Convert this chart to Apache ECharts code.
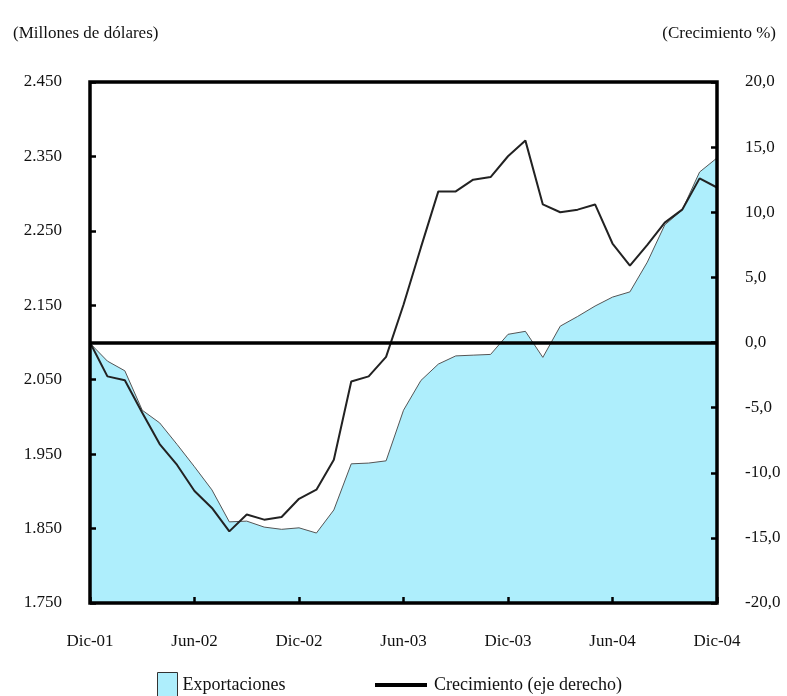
<!DOCTYPE html>
<html>
<head>
<meta charset="utf-8">
<script src="https://cdn.jsdelivr.net/npm/echarts@6/dist/echarts.min.js"></script>
<style>
html,body{margin:0;padding:0;background:#fff;}
#chart{width:787px;height:696px;}
</style>
</head>
<body>
<div id="chart"></div>
<script>
var months = ['Dic-01','Ene-02','Feb-02','Mar-02','Abr-02','May-02','Jun-02','Jul-02','Ago-02','Sep-02','Oct-02','Nov-02',
  'Dic-02','Ene-03','Feb-03','Mar-03','Abr-03','May-03','Jun-03','Jul-03','Ago-03','Sep-03','Oct-03','Nov-03',
  'Dic-03','Ene-04','Feb-04','Mar-04','Abr-04','May-04','Jun-04','Jul-04','Ago-04','Sep-04','Oct-04','Nov-04','Dic-04'];
// Exportaciones (millones de dólares)
var exportaciones = [2099, 2075, 2062, 2009, 1992, 1963, 1933, 1902, 1859, 1860, 1852, 1849,
  1851, 1844, 1875, 1937, 1938, 1941, 2009, 2049, 2071, 2082, 2083, 2084,
  2111, 2115, 2080, 2122, 2135, 2149, 2161, 2168, 2208, 2258, 2278, 2329, 2348];
// Crecimiento (%) eje derecho
var crecimiento = [0.0, -2.6, -2.9, -5.4, -7.8, -9.4, -11.4, -12.7, -14.5, -13.2, -13.6, -13.4,
  -12.0, -11.3, -9.0, -3.0, -2.6, -1.1, 2.9, 7.3, 11.6, 11.6, 12.5, 12.7,
  14.3, 15.5, 10.6, 10.0, 10.2, 10.6, 7.6, 5.9, 7.5, 9.2, 10.2, 12.6, 11.9];
var leftTicks = {min: 1750, max: 2450, interval: 100};
var rightTicks = {min: -20, max: 20, interval: 5};

var FONT = 'Liberation Serif';
var chart = echarts.init(document.getElementById('chart'));
function fmtLeft(v){ var s = String(Math.round(v)); return s.slice(0, s.length-3) + '.' + s.slice(-3); }
function fmtRight(v){ return v.toFixed(1).replace('.', ','); }

chart.setOption({
  animation: false,
  backgroundColor: '#fff',
  textStyle: {fontFamily: FONT, color: '#111'},
  title: [
    {text: '(Millones de dólares)', left: 8, top: 20, textStyle: {fontFamily: FONT, fontSize: 17, fontWeight: 'normal', color: '#111'}},
    {text: '(Crecimiento %)', right: 6, top: 20, textStyle: {fontFamily: FONT, fontSize: 17, fontWeight: 'normal', color: '#111'}}
  ],
  grid: {left: 90, right: 70, top: 82, bottom: 93, show: true, borderColor: '#000', borderWidth: 3.5, backgroundColor: 'transparent', z: 5},
  legend: [
    {data: ['Exportaciones'], left: 152, top: 667, icon: 'rect', itemWidth: 20, itemHeight: 25, itemGap: 6,
     itemStyle: {color: '#aeeefc', borderColor: '#333', borderWidth: 1},
     textStyle: {fontFamily: FONT, fontSize: 18, color: '#111', padding: [6,0,0,0]}},
    {data: ['Crecimiento (eje derecho)'], left: 370, top: 671, icon: 'rect', itemWidth: 52, itemHeight: 4, itemGap: 8,
     itemStyle: {color: '#000'},
     textStyle: {fontFamily: FONT, fontSize: 18, color: '#111', padding: [2,0,0,2]}}
  ],
  xAxis: {
    type: 'category', data: months, boundaryGap: false, z: 6,
    axisLine: {show: false, onZero: false},
    axisTick: {show: true, inside: true, length: 6, interval: 5, lineStyle: {color: '#000', width: 2.5}},
    axisLabel: {interval: 5, margin: 30, fontFamily: FONT, fontSize: 17, color: '#111', showMinLabel: true, showMaxLabel: true},
    splitLine: {show: false}
  },
  yAxis: [
    {type: 'value', min: leftTicks.min, max: leftTicks.max, interval: leftTicks.interval, z: 6,
     axisLine: {show: false, onZero: false},
     axisTick: {show: true, inside: true, length: 6, lineStyle: {color: '#000', width: 2.5}},
     axisLabel: {margin: 28, fontFamily: FONT, fontSize: 17, color: '#111', formatter: fmtLeft},
     splitLine: {show: false}},
    {type: 'value', min: rightTicks.min, max: rightTicks.max, interval: rightTicks.interval, position: 'right', z: 6,
     axisLine: {show: false, onZero: false},
     axisTick: {show: true, inside: true, length: 6, lineStyle: {color: '#000', width: 2.5}},
     axisLabel: {margin: 28, fontFamily: FONT, fontSize: 17, color: '#111', formatter: fmtRight},
     splitLine: {show: false}}
  ],
  series: [
    {name: 'Exportaciones', type: 'line', yAxisIndex: 0, data: exportaciones, symbol: 'none', z: 1,
     lineStyle: {color: '#555', width: 1},
     itemStyle: {color: '#aeeefc', borderColor: '#333'},
     areaStyle: {color: '#aeeefc', opacity: 1, origin: 'start'}},
    {name: 'Crecimiento (eje derecho)', type: 'line', yAxisIndex: 1, data: crecimiento, symbol: 'none', z: 3,
     lineStyle: {color: '#222', width: 2},
     itemStyle: {color: '#000'},
     markLine: {silent: true, symbol: ['none','none'], label: {show: false},
       lineStyle: {color: '#000', width: 3.5, type: 'solid'},
       data: [{yAxis: 0}]}}
  ]
});
</script>
</body>
</html>
